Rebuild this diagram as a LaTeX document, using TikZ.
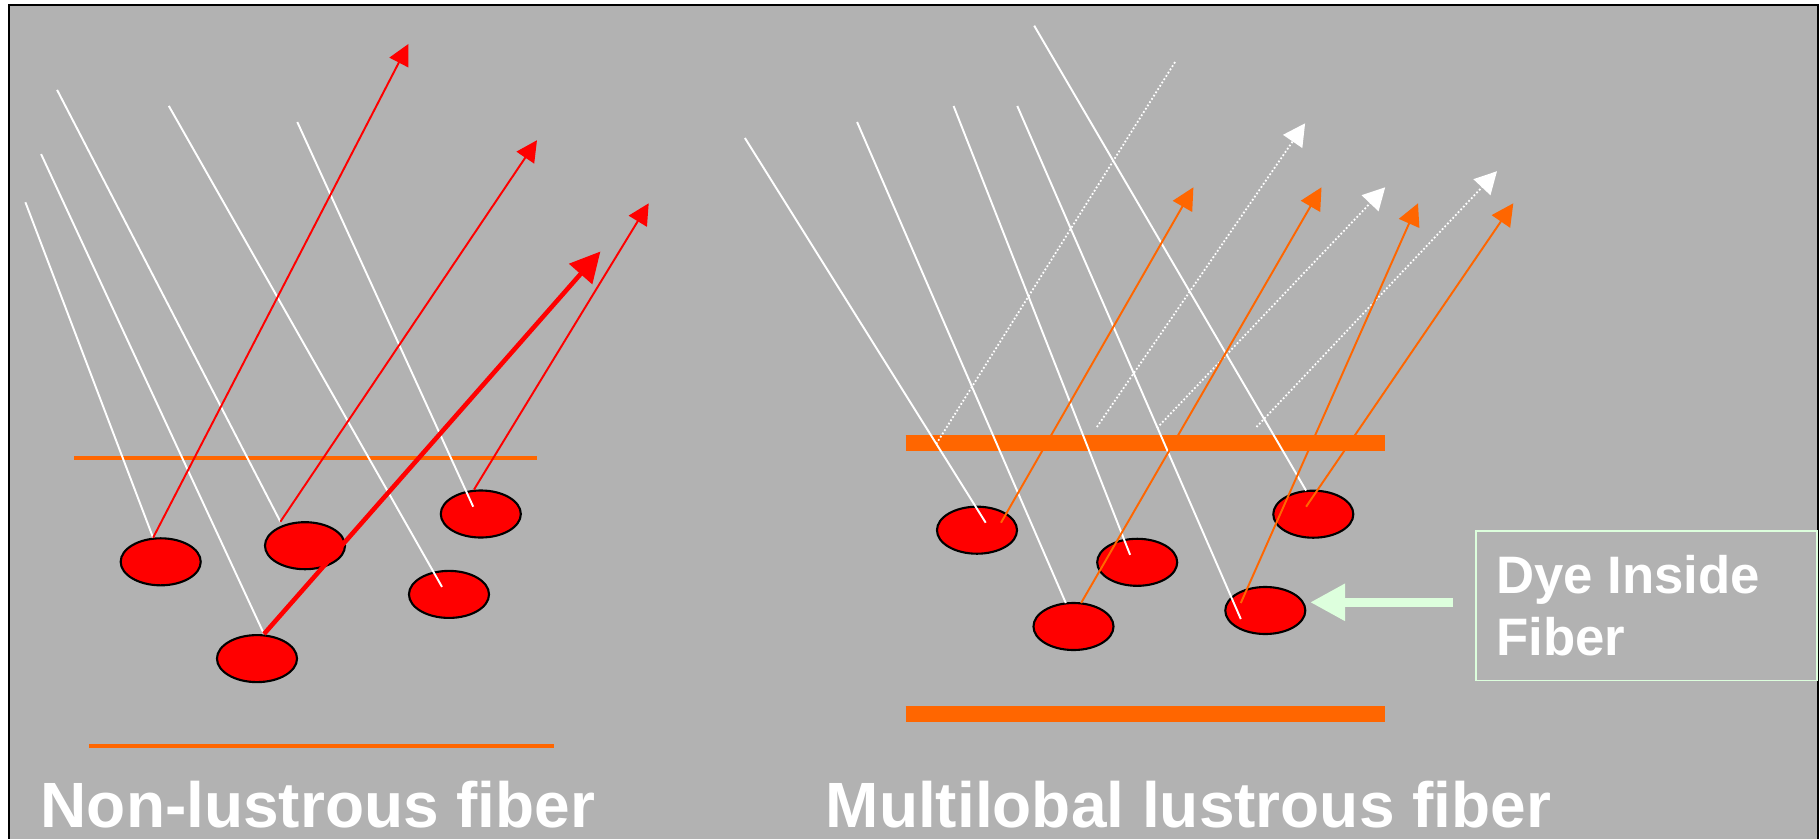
\documentclass[tikz,border=0pt]{standalone}
\usepackage{fontspec}
\setmainfont{Liberation Sans}
\usetikzlibrary{arrows.meta,shapes.geometric}
\definecolor{bg}{HTML}{B2B2B2}
\definecolor{fibor}{HTML}{FF6600}
\definecolor{dyered}{HTML}{FF0000}
\definecolor{mint}{HTML}{DDFFDD}
\begin{document}
\begin{tikzpicture}[x=0.01cm,y=-0.01cm,
  dye/.style={ellipse, draw=black, line width=0.6pt, fill=dyered, minimum width=0.8cm, minimum height=0.47cm, inner sep=0pt},
  inray/.style={white, line width=0.55pt},
  outred/.style={dyered, line width=0.55pt, -{Triangle[length=2.1mm,width=2.1mm]}},
  boldred/.style={dyered, line width=1.3pt, -{Triangle[length=3mm,width=3mm]}},
  outorange/.style={fibor, line width=0.55pt, -{Triangle[length=2.2mm,width=2.2mm]}},
  glint/.style={white, line width=0.5pt, dash pattern=on 0.5pt off 0.6pt},
  glintarrow/.style={glint, -{Triangle[length=2.2mm,width=2.3mm]}},
  thinwall/.style={fibor, line width=1.4pt},
  thickwall/.style={fibor, line width=4.55pt},
  title/.style={text=white, font=\bfseries\fontsize{18.2}{21}\selectfont, anchor=base west, inner sep=0pt},
  callout/.style={draw=mint, line width=0.5pt, minimum width=3.406cm, minimum height=1.493cm, inner sep=0pt},
  pointer/.style={mint, line width=2.5pt, -{Triangle[length=3.5mm,width=3.5mm]}},
]
\useasboundingbox (0,0) rectangle (1820,839);
\clip (0,0) rectangle (1820,839);
\fill[white] (0,0) rectangle (1820,839);
\filldraw[fill=bg, draw=black, line width=0.7pt] (9,5) rectangle (1818,900);

% ---------- left panel: non-lustrous fiber ----------
\draw[thinwall] (74,458) -- (537,458);
\draw[thinwall] (89,746) -- (554,746);

\node[dye] (a1) at (160.7,561.8) {};
\node[dye] (a2) at (305,545.7) {};
\node[dye] (a3) at (480.8,514) {};
\node[dye] (a4) at (449,594.4) {};
\node[dye] (a5) at (257,658.6) {};

\coordinate (s1) at (25.4,202.2);
\coordinate (s2) at (41.1,154.1);
\coordinate (s3) at (57.1,89.9);
\coordinate (s4) at (168.8,105.9);
\coordinate (s5) at (297.3,122);
\coordinate (h1) at (153.1,537.7);
\coordinate (h2) at (280.4,521.7);
\coordinate (h3) at (473.2,506.7);
\coordinate (h3r) at (474,489.6);
\coordinate (h4) at (442,586.9);
\coordinate (h5) at (264,634);
\coordinate (t1) at (408.5,43.9);
\coordinate (t2) at (537,140.2);
\coordinate (t3) at (648.7,203.3);
\coordinate (t4) at (600.4,251.5);

\draw[inray] (s1) -- (h1);
\draw[inray] (s2) -- (h5);
\draw[inray] (s3) -- (h2);
\draw[inray] (s4) -- (h4);
\draw[inray] (s5) -- (h3);

\draw[outred] (h1) -- (t1);
\draw[outred] (h2) -- (t2);
\draw[outred] (h3r) -- (t3);
\draw[boldred] (h5) -- (t4);

% ---------- right panel: multilobal lustrous fiber ----------
\draw[thickwall] (905.6,442.5) -- (1385.2,442.5);
\draw[thickwall] (905.6,714.3) -- (1385.2,714.3);

\node[dye] (b1) at (977,530.2) {};
\node[dye] (b2) at (1137.2,562.3) {};
\node[dye] (b3) at (1073.5,626.5) {};
\node[dye] (b4) at (1313.3,514.2) {};
\node[dye] (b5) at (1265.3,610.5) {};

\coordinate (u1) at (744.9,138);
\coordinate (u2) at (857.1,122);
\coordinate (u3) at (953.6,106);
\coordinate (u4) at (1017.3,106);
\coordinate (u5) at (1034.2,25.7);
\coordinate (k1) at (985.7,522.7);
\coordinate (k2) at (1065.8,603);
\coordinate (k3) at (1130.1,554.8);
\coordinate (k4) at (1240.8,619);
\coordinate (k5) at (1306.1,490.6);
\coordinate (k1o) at (1001,522.7);
\coordinate (k2o) at (1081.1,603);
\coordinate (k4o) at (1240.8,603);
\coordinate (k5o) at (1306.1,506.7);
\coordinate (v1) at (1193.4,187.3);
\coordinate (v2) at (1321.5,187.3);
\coordinate (v3) at (1418,203.3);
\coordinate (v4) at (1513.3,203.3);
\coordinate (g1s) at (936.2,444);
\coordinate (g1e) at (1176,60.5);
\coordinate (g2s) at (1096.9,427);
\coordinate (g2e) at (1305.1,123.3);
\coordinate (g3s) at (1157,428);
\coordinate (g3e) at (1385.2,187.3);
\coordinate (g4s) at (1256.5,427);
\coordinate (g4e) at (1497,171.2);

\draw[glint] (g1s) -- (g1e);
\draw[glintarrow] (g2s) -- (g2e);
\draw[glintarrow] (g3s) -- (g3e);
\draw[glintarrow] (g4s) -- (g4e);

\draw[inray] (u1) -- (k1);
\draw[inray] (u2) -- (k2);
\draw[inray] (u3) -- (k3);
\draw[inray] (u4) -- (k4);
\draw[inray] (u5) -- (k5);

\draw[outorange] (k1o) -- (v1);
\draw[outorange] (k2o) -- (v2);
\draw[outorange] (k4o) -- (v3);
\draw[outorange] (k5o) -- (v4);

% ---------- callout ----------
\node[callout] (box) at (1646.3,605.7) {};
\node[anchor=west, text=white, align=left, inner sep=0pt,
      font=\bfseries\fontsize{15}{17.55}\selectfont] (lbl) at (1495.5,605.7) {Dye Inside\\Fiber};
\coordinate (ps) at (1453.2,602.3);
\coordinate (pe) at (1310.1,602.3);
\draw[pointer] (ps) -- (pe);

% ---------- titles ----------
\node[title] (n1) at (40,827) {Non-lustrous fiber};
\node[title] (n2) at (825,827) {Multilobal lustrous fiber};
\end{tikzpicture}
\end{document}
